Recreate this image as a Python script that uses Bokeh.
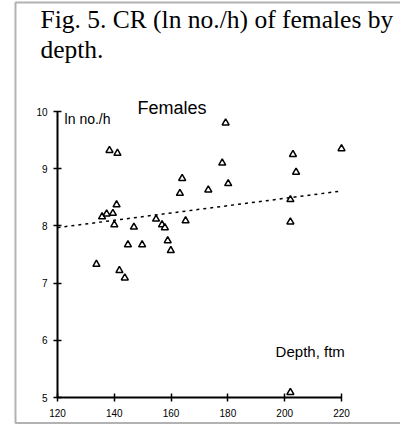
from bokeh.plotting import figure
from bokeh.models import Range1d, LinearAxis, FixedTicker, Label, PolyAnnotation
from bokeh.embed import file_html
from bokeh.resources import INLINE

# Data: depth (ftm) and CR (ln no./h) of females
depth = [138.3, 141.1, 135.7, 137.3, 139.5, 140.8, 140.0, 146.9, 144.8, 149.8,
         133.7, 141.8, 143.7, 154.7, 156.8, 157.8, 158.8, 159.9, 179.2, 163.9,
         163.1, 178.0, 173.1, 180.1, 165.1, 202.9, 204.0, 202.0, 202.0, 220.0,
         202.0]
cr = [9.32, 9.27, 8.16, 8.21, 8.22, 8.37, 8.02, 7.98, 7.67, 7.67,
      7.33, 7.22, 7.09, 8.12, 8.02, 7.97, 7.74, 7.57, 9.80, 8.83,
      8.57, 9.10, 8.63, 8.74, 8.09, 9.25, 8.94, 8.46, 8.07, 9.35,
      5.09]
trend_depth = [120, 220]
trend_cr = [7.97, 8.61]
x_ticks = [120, 140, 160, 180, 200, 220]
y_ticks = [5, 6, 7, 8, 9, 10]

title_line1 = "Fig. 5. CR (ln no./h) of females by"
title_line2 = "depth."

p = figure(width=400, height=424, output_backend="svg", toolbar_location=None,
           x_range=Range1d(99.93, 240.77), y_range=Range1d(4.528, 11.941),
           min_border_left=0, min_border_right=0, min_border_top=0,
           min_border_bottom=0, x_axis_type=None, y_axis_type=None)
p.outline_line_color = None
p.background_fill_color = "white"
p.border_fill_color = "white"

yax = LinearAxis(ticker=FixedTicker(ticks=y_ticks), bounds=(5, 10), fixed_location=120)
xax = LinearAxis(ticker=FixedTicker(ticks=x_ticks), bounds=(120, 220), fixed_location=5)
for ax in (xax, yax):
    ax.axis_line_width = 2
    ax.axis_line_color = "black"
    ax.major_tick_in = 4
    ax.major_tick_out = 4
    ax.major_tick_line_width = 1.5
    ax.major_tick_line_color = "black"
    ax.minor_tick_line_color = None
    ax.major_label_text_font = "Liberation Sans"
    ax.major_label_text_font_size = "10px"
    ax.major_label_text_color = "black"
yax.major_label_standoff = 6
xax.major_label_standoff = 7
p.add_layout(yax, "left")
p.add_layout(xax, "below")

p.line(trend_depth, trend_cr, line_color="black", line_width=1.5, line_dash="3 4")
p.scatter(depth, cr, marker="triangle", size=7, fill_color="white",
          line_color="black", line_width=1.5)

p.add_layout(Label(x=114.0, y=11.364, text=title_line1, text_font="Liberation Serif",
                   text_font_size="25.5px", text_color="black"))
p.add_layout(Label(x=114.0, y=10.839, text=title_line2, text_font="Liberation Serif",
                   text_font_size="25.5px", text_color="black"))
p.add_layout(Label(x=148.2, y=9.895, text="Females", text_font="Liberation Sans",
                   text_font_size="18px", text_color="black"))
p.add_layout(Label(x=122.5, y=9.729, text="ln no./h", text_font="Liberation Sans",
                   text_font_size="14px", text_color="black"))
p.add_layout(Label(x=196.8, y=5.647, text="Depth, ftm", text_font="Liberation Sans",
                   text_font_size="15px", text_color="black"))

# frame of the scanned figure (left, top and bottom edges; right edge lies off the page)
p.add_layout(PolyAnnotation(xs=[245, 105.21, 105.21, 245],
                            ys=[11.906, 11.906, 4.554, 4.554], fill_alpha=0,
                            line_color="black", line_width=2))

open("out.html", "w").write(file_html(p, INLINE))
